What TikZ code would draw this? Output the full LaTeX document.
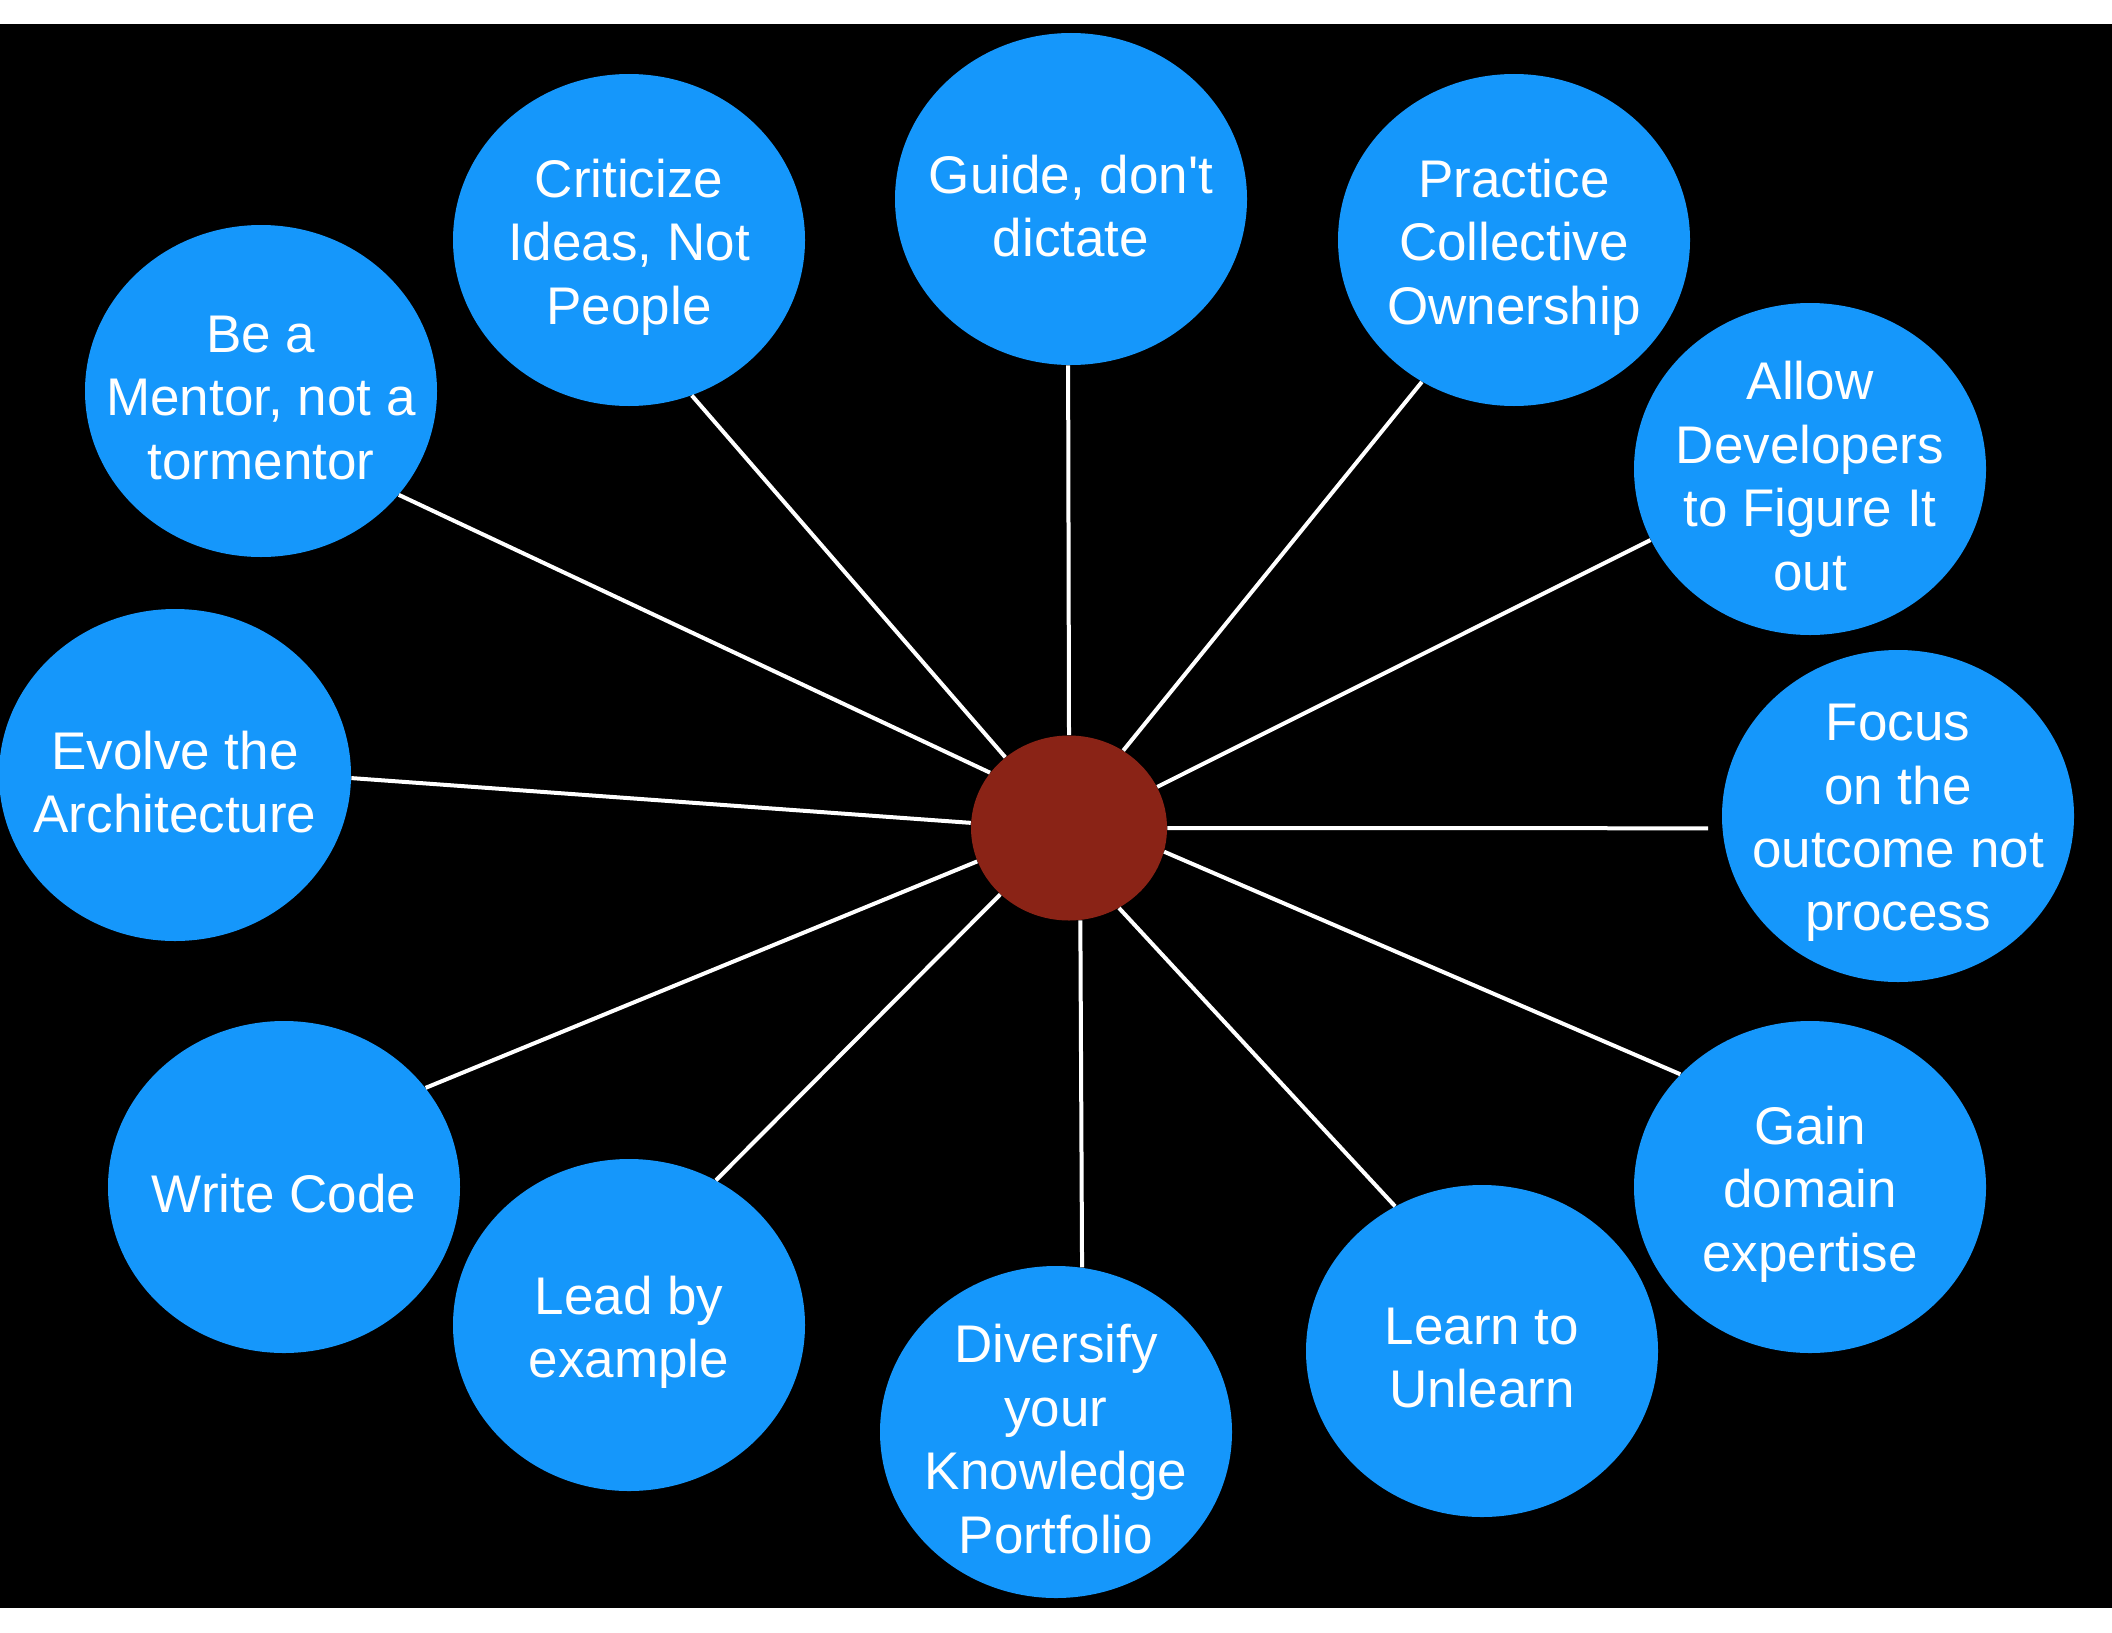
\documentclass[tikz,border=0pt]{standalone}
\usepackage{fontspec}
\setmainfont{Liberation Sans}
\usetikzlibrary{shapes.geometric}
\definecolor{bubbleblue}{RGB}{21,151,251}
\definecolor{hubred}{RGB}{138,35,22}

\begin{document}
\begin{tikzpicture}[x=0.5pt, y=-0.5pt,
    bubble/.style={ellipse, fill=bubbleblue, minimum width=176pt, minimum height=166pt, inner sep=0pt},
    words/.style={text=white, align=center, inner sep=0pt, yshift=-3.5pt, font=\fontsize{26.5}{31.7}\selectfont},
    spoke/.style={white, line width=2pt}]
  \useasboundingbox (0,0) rectangle (2112,1632);
  \fill[black] (0,24) rectangle (2112,1608);

  \node [ellipse, fill=hubred, minimum width=98pt, minimum height=92.5pt, inner sep=0pt] (hub) at (1069,828) {};

  \node [bubble, label={[words]center:{Be a\\Mentor, not a\\tormentor}}] (mentor) at (261,391) {};
  \node [bubble, label={[words]center:{Criticize\\Ideas, Not\\People}}] (criticize) at (629,240) {};
  \node [bubble, label={[words]center:{Guide, don\textquotesingle t\\dictate}}] (guide) at (1071,199) {};
  \node [bubble, label={[words]center:{Practice\\Collective\\Ownership}}] (practice) at (1514,240) {};
  \node [bubble, label={[words]center:{Allow\\Developers\\to Figure It\\out}}] (allow) at (1810,469) {};
  \node [bubble, label={[words]center:{Focus\\on the\\outcome not\\process}}] (focus) at (1898,816) {};
  \node [bubble, label={[words]center:{Gain\\domain\\expertise}}] (gain) at (1810,1187) {};
  \node [bubble, label={[words]center:{Learn to\\Unlearn}}] (learn) at (1482,1351) {};
  \node [bubble, label={[words]center:{Diversify\\your\\Knowledge\\Portfolio}}] (diversify) at (1056,1432) {};
  \node [bubble, label={[words]center:{Lead by\\example}}] (lead) at (629,1325) {};
  \node [bubble, label={[words]center:{Write Code}}] (write) at (284,1187) {};
  \node [bubble, label={[words]center:{Evolve the\\Architecture}}] (evolve) at (175,775) {};

  \draw [spoke] (hub.145) -- (mentor.-37);
  \draw [spoke] (hub.132) -- (criticize.-68);
  \draw [spoke] (hub.90) -- (guide.-91);
  \draw [spoke] (hub.55) -- (practice.-123);
  \draw [spoke] (hub.25) -- (allow.-156);
  \draw [spoke, shorten >=7pt] (hub.0) -- (focus.-176);
  \draw [spoke] (hub.-14) -- (gain.139);
  \draw [spoke] (hub.-58) -- (learn.121);
  \draw [spoke] (hub.-83) -- (diversify.81);
  \draw [spoke] (hub.-136) -- (lead.59);
  \draw [spoke] (hub.-160) -- (write.35);
  \draw [spoke] (hub.177) -- (evolve.-1);
\end{tikzpicture}
\end{document}
